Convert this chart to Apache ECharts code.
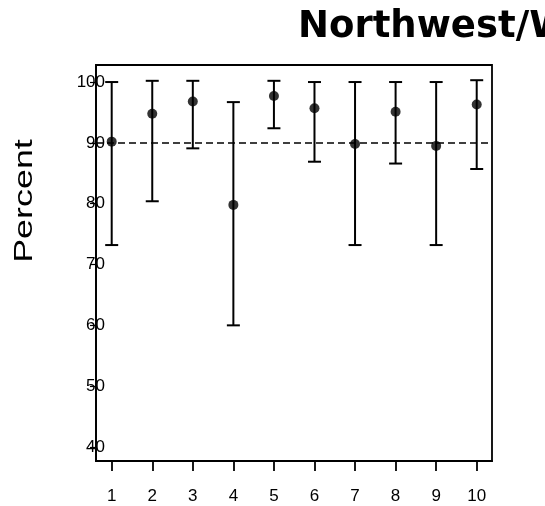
<!DOCTYPE html>
<html>
<head>
<meta charset="utf-8">
<script src="https://cdn.jsdelivr.net/npm/echarts@6/dist/echarts.min.js"></script>
<style>html,body{margin:0;padding:0;background:#fff;}#c{width:545px;height:506px;}</style>
</head>
<body>
<div id="c"></div>
<script>
const categories = [1, 2, 3, 4, 5, 6, 7, 8, 9, 10];
const means = [90.2, 94.8, 96.8, 79.8, 97.7, 95.7, 89.8, 95.1, 89.5, 96.3];
const upper = [100.0, 100.2, 100.2, 96.7, 100.2, 100.0, 100.0, 100.0, 100.0, 100.3];
const lower = [73.2, 80.4, 89.1, 60.0, 92.4, 86.9, 73.2, 86.6, 73.2, 85.7];
const yTicks = [40, 50, 60, 70, 80, 90, 100];
const xTicks = [1, 2, 3, 4, 5, 6, 7, 8, 9, 10];
const refValue = 90;
const titleText = 'Northwest/West';
const yName = 'Percent';

const chart = echarts.init(document.getElementById('c'), null, {renderer: 'canvas'});
const option = {
  animation: false,
  backgroundColor: '#fff',
  title: {
    text: titleText,
    left: 293,
    top: 4,
    textStyle: {fontFamily: 'DejaVu Sans', fontWeight: 'bold', fontSize: 37, color: '#000'}
  },
  graphic: [{
    type: 'text',
    x: 25, y: 201,
    rotation: Math.PI / 2,
    scaleX: 1.38,
    style: {
      text: yName, fontFamily: 'Liberation Sans', fontSize: 26, fill: '#000',
      textAlign: 'center', textVerticalAlign: 'middle'
    }
  }],
  grid: {left: 96, top: 65, right: 53, bottom: 45, show: true, borderColor: '#000', borderWidth: 1.8, backgroundColor: 'transparent'},
  xAxis: {
    type: 'value', min: 0.613, max: 10.377,
    axisLine: {show: true, lineStyle: {color: '#000', width: 1.8}},
    axisTick: {show: true, length: 10, lineStyle: {color: '#000', width: 1.8}, customValues: xTicks},
    axisLabel: {show: true, customValues: xTicks, color: '#000', fontFamily: 'Liberation Sans', fontSize: 17, margin: 27},
    splitLine: {show: false}
  },
  yAxis: {
    type: 'value', min: 37.7, max: 102.8,
    axisLine: {show: true, lineStyle: {color: '#000', width: 1.8}},
    axisTick: {show: true, length: 6, lineStyle: {color: '#000', width: 1.2}, customValues: yTicks},
    axisLabel: {show: true, customValues: yTicks, color: '#000', fontFamily: 'Liberation Sans', fontSize: 17, margin: -9},
    splitLine: {show: false}
  },
  series: [
    {
      type: 'custom',
      data: categories.map((c, i) => [c, lower[i], upper[i]]),
      renderItem: function (params, api) {
        const x = api.value(0);
        const pLo = api.coord([x, api.value(1)]);
        const pHi = api.coord([x, api.value(2)]);
        const hw = 6.5;
        const st = {stroke: '#000', lineWidth: 2};
        return {
          type: 'group',
          children: [
            {type: 'line', shape: {x1: pHi[0], y1: pHi[1], x2: pLo[0], y2: pLo[1]}, style: st},
            {type: 'line', shape: {x1: pHi[0] - hw, y1: pHi[1], x2: pHi[0] + hw, y2: pHi[1]}, style: st},
            {type: 'line', shape: {x1: pLo[0] - hw, y1: pLo[1], x2: pLo[0] + hw, y2: pLo[1]}, style: st}
          ]
        };
      },
      z: 2
    },
    {
      type: 'scatter',
      data: categories.map((c, i) => [c, means[i]]),
      symbol: 'circle',
      symbolSize: 10,
      itemStyle: {color: '#000'},
      z: 3,
      markLine: {
        silent: true,
        symbol: 'none',
        label: {show: false},
        lineStyle: {color: '#000', width: 1.6, type: [7, 4]},
        data: [{yAxis: refValue}]
      }
    }
  ]
};
chart.setOption(option);
</script>
</body>
</html>
